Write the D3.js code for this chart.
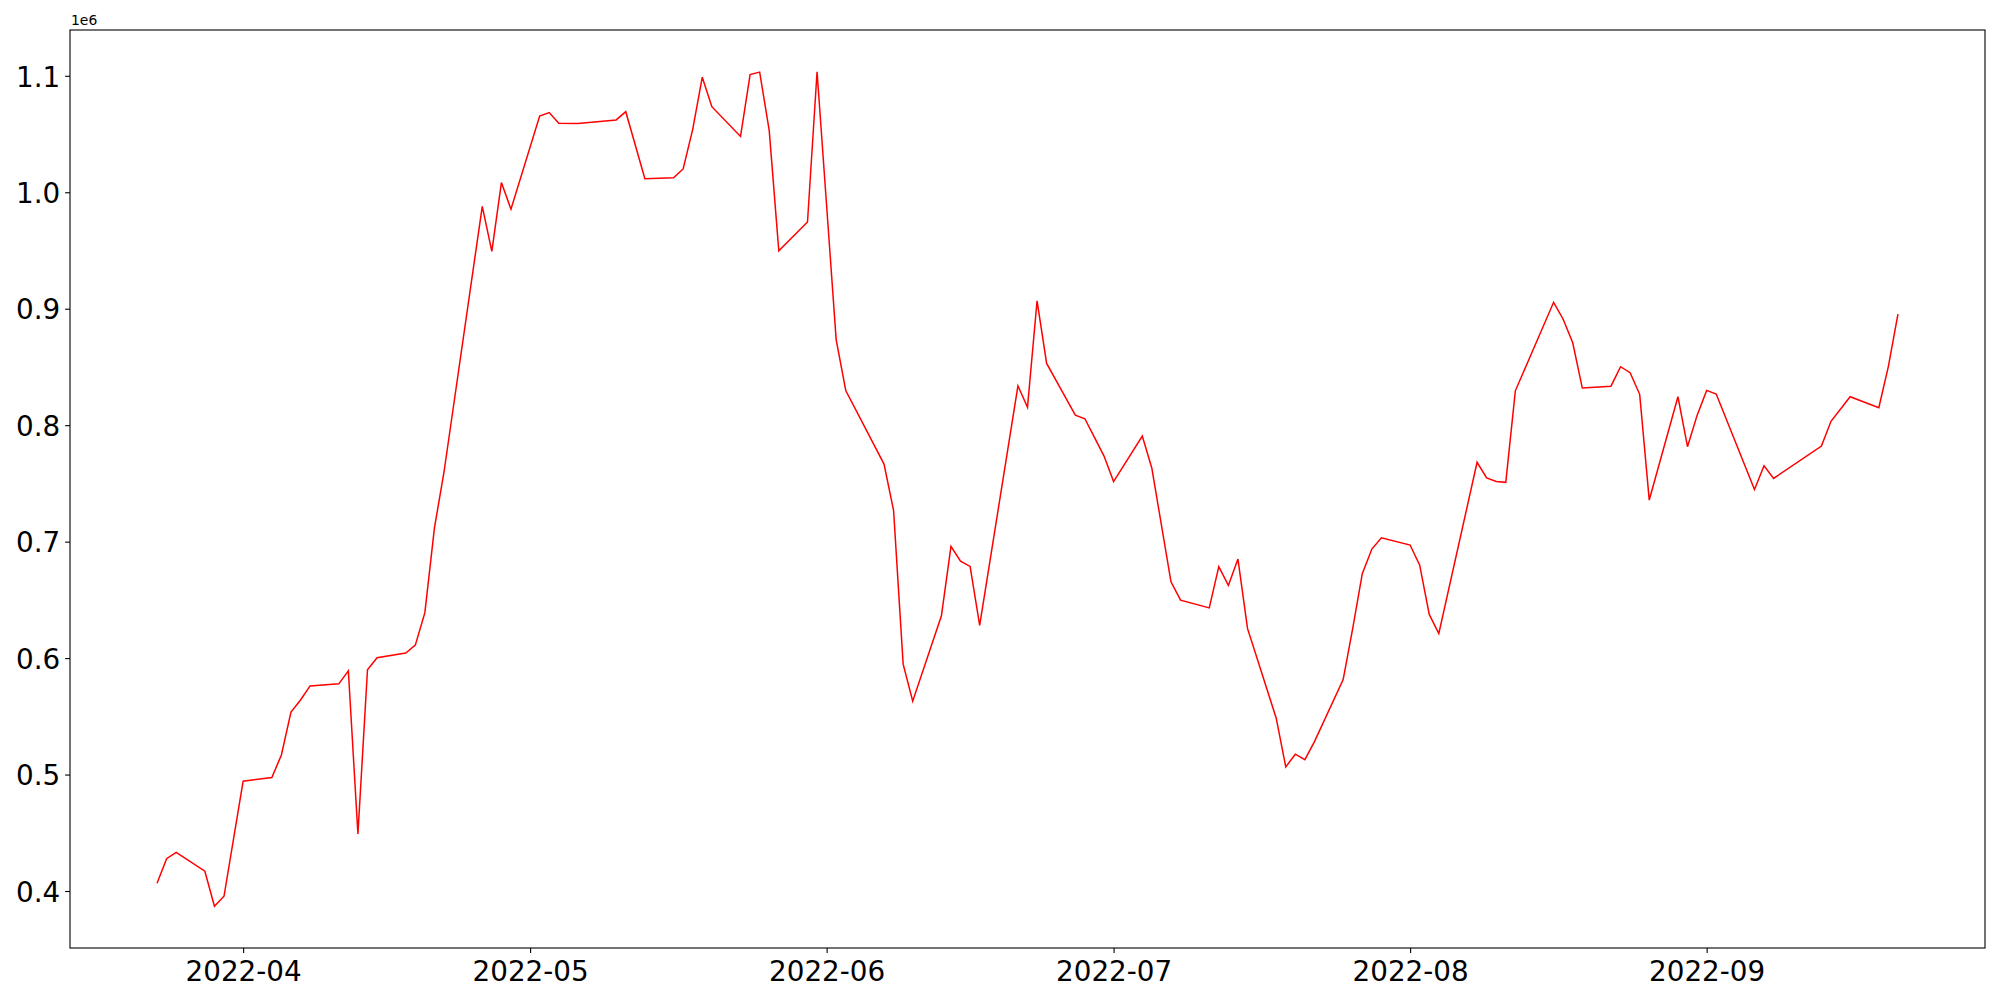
<!DOCTYPE html>
<html>
<head>
<meta charset="utf-8">
<script src="https://cdn.jsdelivr.net/npm/d3@7"></script>
<style>
  html, body { margin: 0; padding: 0; background: #ffffff; }
  svg { display: block; }
</style>
</head>
<body>
<svg id="chart" width="2000" height="1000"></svg>
<script>
// ---- data ----
const dates = [
  "2022-03-23","2022-03-24","2022-03-25","2022-03-28","2022-03-29","2022-03-30",
  "2022-04-01","2022-04-04","2022-04-05","2022-04-06","2022-04-07","2022-04-08",
  "2022-04-11","2022-04-12","2022-04-13","2022-04-14","2022-04-15","2022-04-18",
  "2022-04-19","2022-04-20","2022-04-21","2022-04-22","2022-04-26","2022-04-27",
  "2022-04-28","2022-04-29","2022-05-02","2022-05-03","2022-05-04","2022-05-06",
  "2022-05-10","2022-05-11","2022-05-13","2022-05-16","2022-05-17","2022-05-18",
  "2022-05-19","2022-05-20","2022-05-23","2022-05-24","2022-05-25","2022-05-26",
  "2022-05-27","2022-05-30","2022-05-31","2022-06-02","2022-06-03","2022-06-07",
  "2022-06-08","2022-06-09","2022-06-10","2022-06-13","2022-06-14","2022-06-15",
  "2022-06-16","2022-06-17","2022-06-21","2022-06-22","2022-06-23","2022-06-24",
  "2022-06-27","2022-06-28","2022-06-29","2022-06-30","2022-07-01","2022-07-04",
  "2022-07-05","2022-07-07","2022-07-08","2022-07-11","2022-07-12","2022-07-13",
  "2022-07-14","2022-07-15","2022-07-18","2022-07-19","2022-07-20","2022-07-21",
  "2022-07-22","2022-07-25","2022-07-26","2022-07-27","2022-07-28","2022-07-29",
  "2022-08-01","2022-08-02","2022-08-03","2022-08-04","2022-08-08","2022-08-09",
  "2022-08-10","2022-08-11","2022-08-12","2022-08-16","2022-08-17","2022-08-18",
  "2022-08-19","2022-08-22","2022-08-23","2022-08-24","2022-08-25","2022-08-26",
  "2022-08-29","2022-08-30","2022-08-31","2022-09-01","2022-09-02","2022-09-06",
  "2022-09-07","2022-09-08","2022-09-13","2022-09-14","2022-09-16","2022-09-19",
  "2022-09-20","2022-09-21"
];
const values = [
  406700, 427800, 433200, 417000, 386900, 395500,
  494300, 497500, 516800, 553600, 564000, 576100,
  577900, 589100, 448900, 590000, 600300, 604400,
  611100, 639000, 711800, 759800, 987900, 949300,
  1008300, 985500, 1065500, 1068400, 1059300, 1059000,
  1062100, 1069200, 1011700, 1012500, 1020000, 1054000,
  1098800, 1073500, 1047900, 1101000, 1103200, 1052900,
  949800, 974500, 1103500, 873200, 829800, 766600,
  726700, 594800, 563000, 636300, 696000, 683300,
  678700, 628000, 833800, 815300, 906800, 853000,
  808600, 805500, 789500, 773500, 751600, 790700,
  763000, 665500, 649800, 643100, 678500, 662400,
  685000, 625500, 548400, 506600, 517500, 512800,
  528300, 581500, 625500, 672500, 693600, 703300,
  697100, 679800, 637500, 621100, 768100, 754700,
  751600, 750900, 829500, 905500, 891000, 870800,
  831900, 833500, 850200, 845100, 826500, 735700,
  824400, 781500, 808400, 829900, 826700, 744800,
  765100, 754300, 782100, 803300, 824400, 815000,
  850500, 895300
];
const xTickDates = ["2022-04-01","2022-05-01","2022-06-01","2022-07-01","2022-08-01","2022-09-01"];
const xTickLabels = ["2022-04","2022-05","2022-06","2022-07","2022-08","2022-09"];
const yTickValues = [400000, 500000, 600000, 700000, 800000, 900000, 1000000, 1100000];
const yTickLabels = ["0.4","0.5","0.6","0.7","0.8","0.9","1.0","1.1"];
const offsetLabel = "1e6";

// ---- layout ----
const W = 2000, H = 1000;
const plot = { left: 70, right: 1985, top: 30, bottom: 948 };
const tickLen = 4.9, tickPad = 4.9;
const fontFamily = "'DejaVu Sans', sans-serif";
const tickFont = 27.8;

const parse = d3.utcParse("%Y-%m-%d");
const points = dates.map((d, i) => ({ date: parse(d), value: values[i] }));

// matplotlib-style 5% margins
const xExt = d3.extent(points, p => +p.date);
const xPad = (xExt[1] - xExt[0]) * 0.05;
const yExt = d3.extent(points, p => p.value);
const yPad = (yExt[1] - yExt[0]) * 0.05;

const x = d3.scaleUtc()
  .domain([new Date(xExt[0] - xPad), new Date(xExt[1] + xPad)])
  .range([plot.left, plot.right]);
const y = d3.scaleLinear()
  .domain([yExt[0] - yPad, yExt[1] + yPad])
  .range([plot.bottom, plot.top]);

const svg = d3.select("#chart");
svg.append("rect").attr("width", W).attr("height", H).attr("fill", "#ffffff");

// line
const line = d3.line().x(p => x(p.date)).y(p => y(p.value));
svg.append("path")
  .datum(points)
  .attr("fill", "none")
  .attr("stroke", "#ff0000")
  .attr("stroke-width", 1.5)
  .attr("stroke-linejoin", "miter")
  .attr("d", line);

// x axis
const xAxis = d3.axisBottom(x)
  .tickValues(xTickDates.map(parse))
  .tickFormat((d, i) => xTickLabels[i])
  .tickSize(tickLen)
  .tickPadding(tickPad);
const gx = svg.append("g")
  .attr("transform", `translate(0,${plot.bottom})`)
  .call(xAxis);
gx.select(".domain").remove();
gx.selectAll(".tick line").attr("stroke", "#000").attr("stroke-width", 1.1);
gx.selectAll(".tick text")
  .attr("fill", "#000")
  .attr("font-family", fontFamily)
  .attr("font-size", tickFont)
  .attr("dy", "0.82em");

// y axis
const yAxis = d3.axisLeft(y)
  .tickValues(yTickValues)
  .tickFormat((d, i) => yTickLabels[i])
  .tickSize(tickLen)
  .tickPadding(tickPad);
const gy = svg.append("g")
  .attr("transform", `translate(${plot.left},0)`)
  .call(yAxis);
gy.select(".domain").remove();
gy.selectAll(".tick line").attr("stroke", "#000").attr("stroke-width", 1.1);
gy.selectAll(".tick text")
  .attr("fill", "#000")
  .attr("font-family", fontFamily)
  .attr("font-size", tickFont)
  .attr("dy", "0.367em");

// frame (spines)
svg.append("rect")
  .attr("x", plot.left).attr("y", plot.top)
  .attr("width", plot.right - plot.left)
  .attr("height", plot.bottom - plot.top)
  .attr("fill", "none")
  .attr("stroke", "#000")
  .attr("stroke-width", 1.1);

// offset text
svg.append("text")
  .attr("x", plot.left + 1)
  .attr("y", plot.top - 5)
  .attr("font-family", fontFamily)
  .attr("font-size", 13.9)
  .attr("fill", "#000")
  .text(offsetLabel);
</script>
</body>
</html>
